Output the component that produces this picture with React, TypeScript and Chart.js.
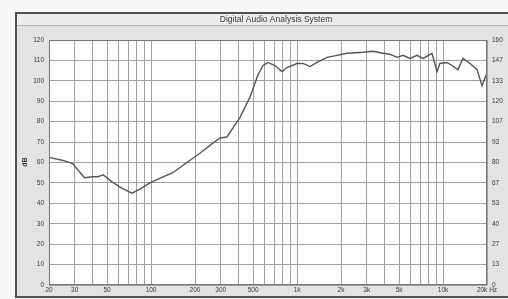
import React, { useEffect, useRef } from "react";
import { Chart, registerables } from "chart.js";

Chart.register(...registerables);

const titleText = "Digital Audio Analysis System";
const yTitle = "dB";

const freqs = [20, 25, 29, 35, 40, 43, 47, 54, 63, 74, 84, 98, 121, 141, 176, 216, 265, 297, 331, 364, 406, 476, 540, 585, 632, 706, 789, 853, 1000, 1100, 1227, 1371, 1604, 1877, 2197, 2831, 3313, 3878, 4334, 4838, 5318, 5940, 6633, 7300, 8401, 9094, 9500, 10640, 11500, 12650, 13700, 15300, 17100, 18490, 20000];
const levels = [62.5, 61, 59.5, 52.5, 53, 53, 54, 50.5, 47.5, 45, 47, 50, 53, 55, 60, 64.5, 69.5, 72, 72.5, 77, 82, 92, 103, 107.5, 109, 107.5, 104.5, 106.5, 108.5, 108.5, 107, 109, 111.5, 112.5, 113.5, 114, 114.5, 113.5, 113, 111.5, 112.5, 111, 112.5, 111, 113.5, 104.5, 108.5, 109, 107.5, 105.5, 111, 108.5, 105.5, 97.5, 104];

const gridFreqs = [20, 30, 40, 50, 60, 70, 80, 90, 100, 200, 300, 400, 500, 600, 700, 800, 900, 1000, 2000, 3000, 4000, 5000, 6000, 7000, 8000, 9000, 10000, 20000];
const labelFreqs = [20, 30, 50, 100, 200, 300, 500, 1000, 2000, 3000, 5000, 10000, 20000];
const labelTexts = ["20", "30", "50", "100", "200", "300", "500", "1k", "2k", "3k", "5k", "10k", "20k Hz"];

const leftMin = 0, leftMax = 120, leftStep = 10;
const rightMin = 0, rightMax = 160, rightDivisions = 12;

const framePlugin = {
  id: "frame",
  beforeDraw(chart: any) {
    const { ctx, chartArea } = chart;
    ctx.save();
    ctx.fillStyle = "#f8f8f7";
    ctx.fillRect(0, 0, 508, 299);
    ctx.fillStyle = "#e3e3e3";
    ctx.fillRect(15, 12, 493, 286);
    ctx.strokeStyle = "#505050";
    ctx.lineWidth = 2;
    ctx.strokeRect(16, 13, 500, 284);
    ctx.fillStyle = "#ececec";
    ctx.fillRect(17, 14, 491, 11);
    ctx.strokeStyle = "#b5b5b5";
    ctx.lineWidth = 1;
    ctx.beginPath();
    ctx.moveTo(17, 25.5);
    ctx.lineTo(508, 25.5);
    ctx.stroke();
    ctx.fillStyle = "#3a3a3a";
    ctx.font = "8.5px 'Liberation Sans', Arial, sans-serif";
    ctx.textAlign = "center";
    ctx.textBaseline = "middle";
    ctx.fillText(titleText, 276, 19.5);
    ctx.save();
    ctx.translate(25, 162);
    ctx.rotate(-Math.PI / 2);
    ctx.font = "bold 7px 'Liberation Sans', Arial, sans-serif";
    ctx.fillStyle = "#333";
    ctx.fillText(yTitle, 0, 0);
    ctx.restore();
    ctx.fillStyle = "#ffffff";
    ctx.fillRect(chartArea.left, chartArea.top, chartArea.right - chartArea.left, chartArea.bottom - chartArea.top);
    ctx.restore();
  },
  afterDraw(chart: any) {
    const { ctx, chartArea } = chart;
    ctx.save();
    ctx.strokeStyle = "#777";
    ctx.lineWidth = 1;
    ctx.strokeRect(chartArea.left + 0.5, chartArea.top + 0.5, chartArea.right - chartArea.left - 1, chartArea.bottom - chartArea.top - 1);
    ctx.restore();
  },
};

export default function App() {
  const ref = useRef<HTMLCanvasElement>(null);
  useEffect(() => {
    if (!ref.current) return;
    const tickFont = { size: 6.5, family: "'Liberation Sans', Arial, sans-serif" };
    const chart = new Chart(ref.current, {
      type: "line",
      data: {
        datasets: [
          {
            data: freqs.map((f, i) => ({ x: f, y: levels[i] })),
            borderColor: "#555555",
            borderWidth: 1.4,
            pointRadius: 0,
            tension: 0,
            fill: false,
            yAxisID: "y",
          },
        ],
      },
      options: {
        animation: false,
        responsive: false,
        maintainAspectRatio: false,
        layout: { padding: { top: 40, left: 0, right: 0, bottom: 0 } },
        plugins: { legend: { display: false }, tooltip: { enabled: false }, title: { display: false } },
        scales: {
          x: {
            type: "logarithmic",
            min: 20,
            max: 20000,
            afterBuildTicks: (axis: any) => {
              axis.ticks = gridFreqs.map((v) => ({ value: v }));
            },
            afterFit: (axis: any) => {
              axis.height = 14;
            },
            ticks: {
              autoSkip: false,
              maxRotation: 0,
              padding: 1,
              color: "#3a3a3a",
              font: tickFont,
              callback: (v: any) => {
                const i = labelFreqs.indexOf(Number(v));
                return i >= 0 ? labelTexts[i] : "";
              },
            },
            grid: { color: "#a0a0a0", lineWidth: 1, drawTicks: false },
            border: { display: false },
          },
          y: {
            type: "linear",
            position: "left",
            min: leftMin,
            max: leftMax,
            ticks: { stepSize: leftStep, padding: 5, color: "#3a3a3a", font: tickFont },
            afterFit: (axis: any) => {
              axis.width = 49;
            },
            grid: { color: "#a0a0a0", lineWidth: 1, drawTicks: false },
            border: { display: false },
          },
          y1: {
            type: "linear",
            position: "right",
            min: rightMin,
            max: rightMax,
            afterBuildTicks: (axis: any) => {
              const t = [];
              for (let i = 0; i <= rightDivisions; i++) t.push({ value: rightMin + (i * (rightMax - rightMin)) / rightDivisions });
              axis.ticks = t;
            },
            afterFit: (axis: any) => {
              axis.width = 21;
            },
            ticks: {
              padding: 5,
              color: "#3a3a3a",
              font: tickFont,
              callback: (v: any) => String(Math.round(Number(v))),
            },
            grid: { display: false, drawTicks: false },
            border: { display: false },
          },
        },
      },
      plugins: [framePlugin],
    } as any);
    return () => chart.destroy();
  }, []);
  return (
    <div style={{ position: "fixed", left: 0, top: 0, width: 508, height: 299 }}>
      <canvas ref={ref} width={508} height={299} style={{ width: 508, height: 299, display: "block" }} />
    </div>
  );
}
